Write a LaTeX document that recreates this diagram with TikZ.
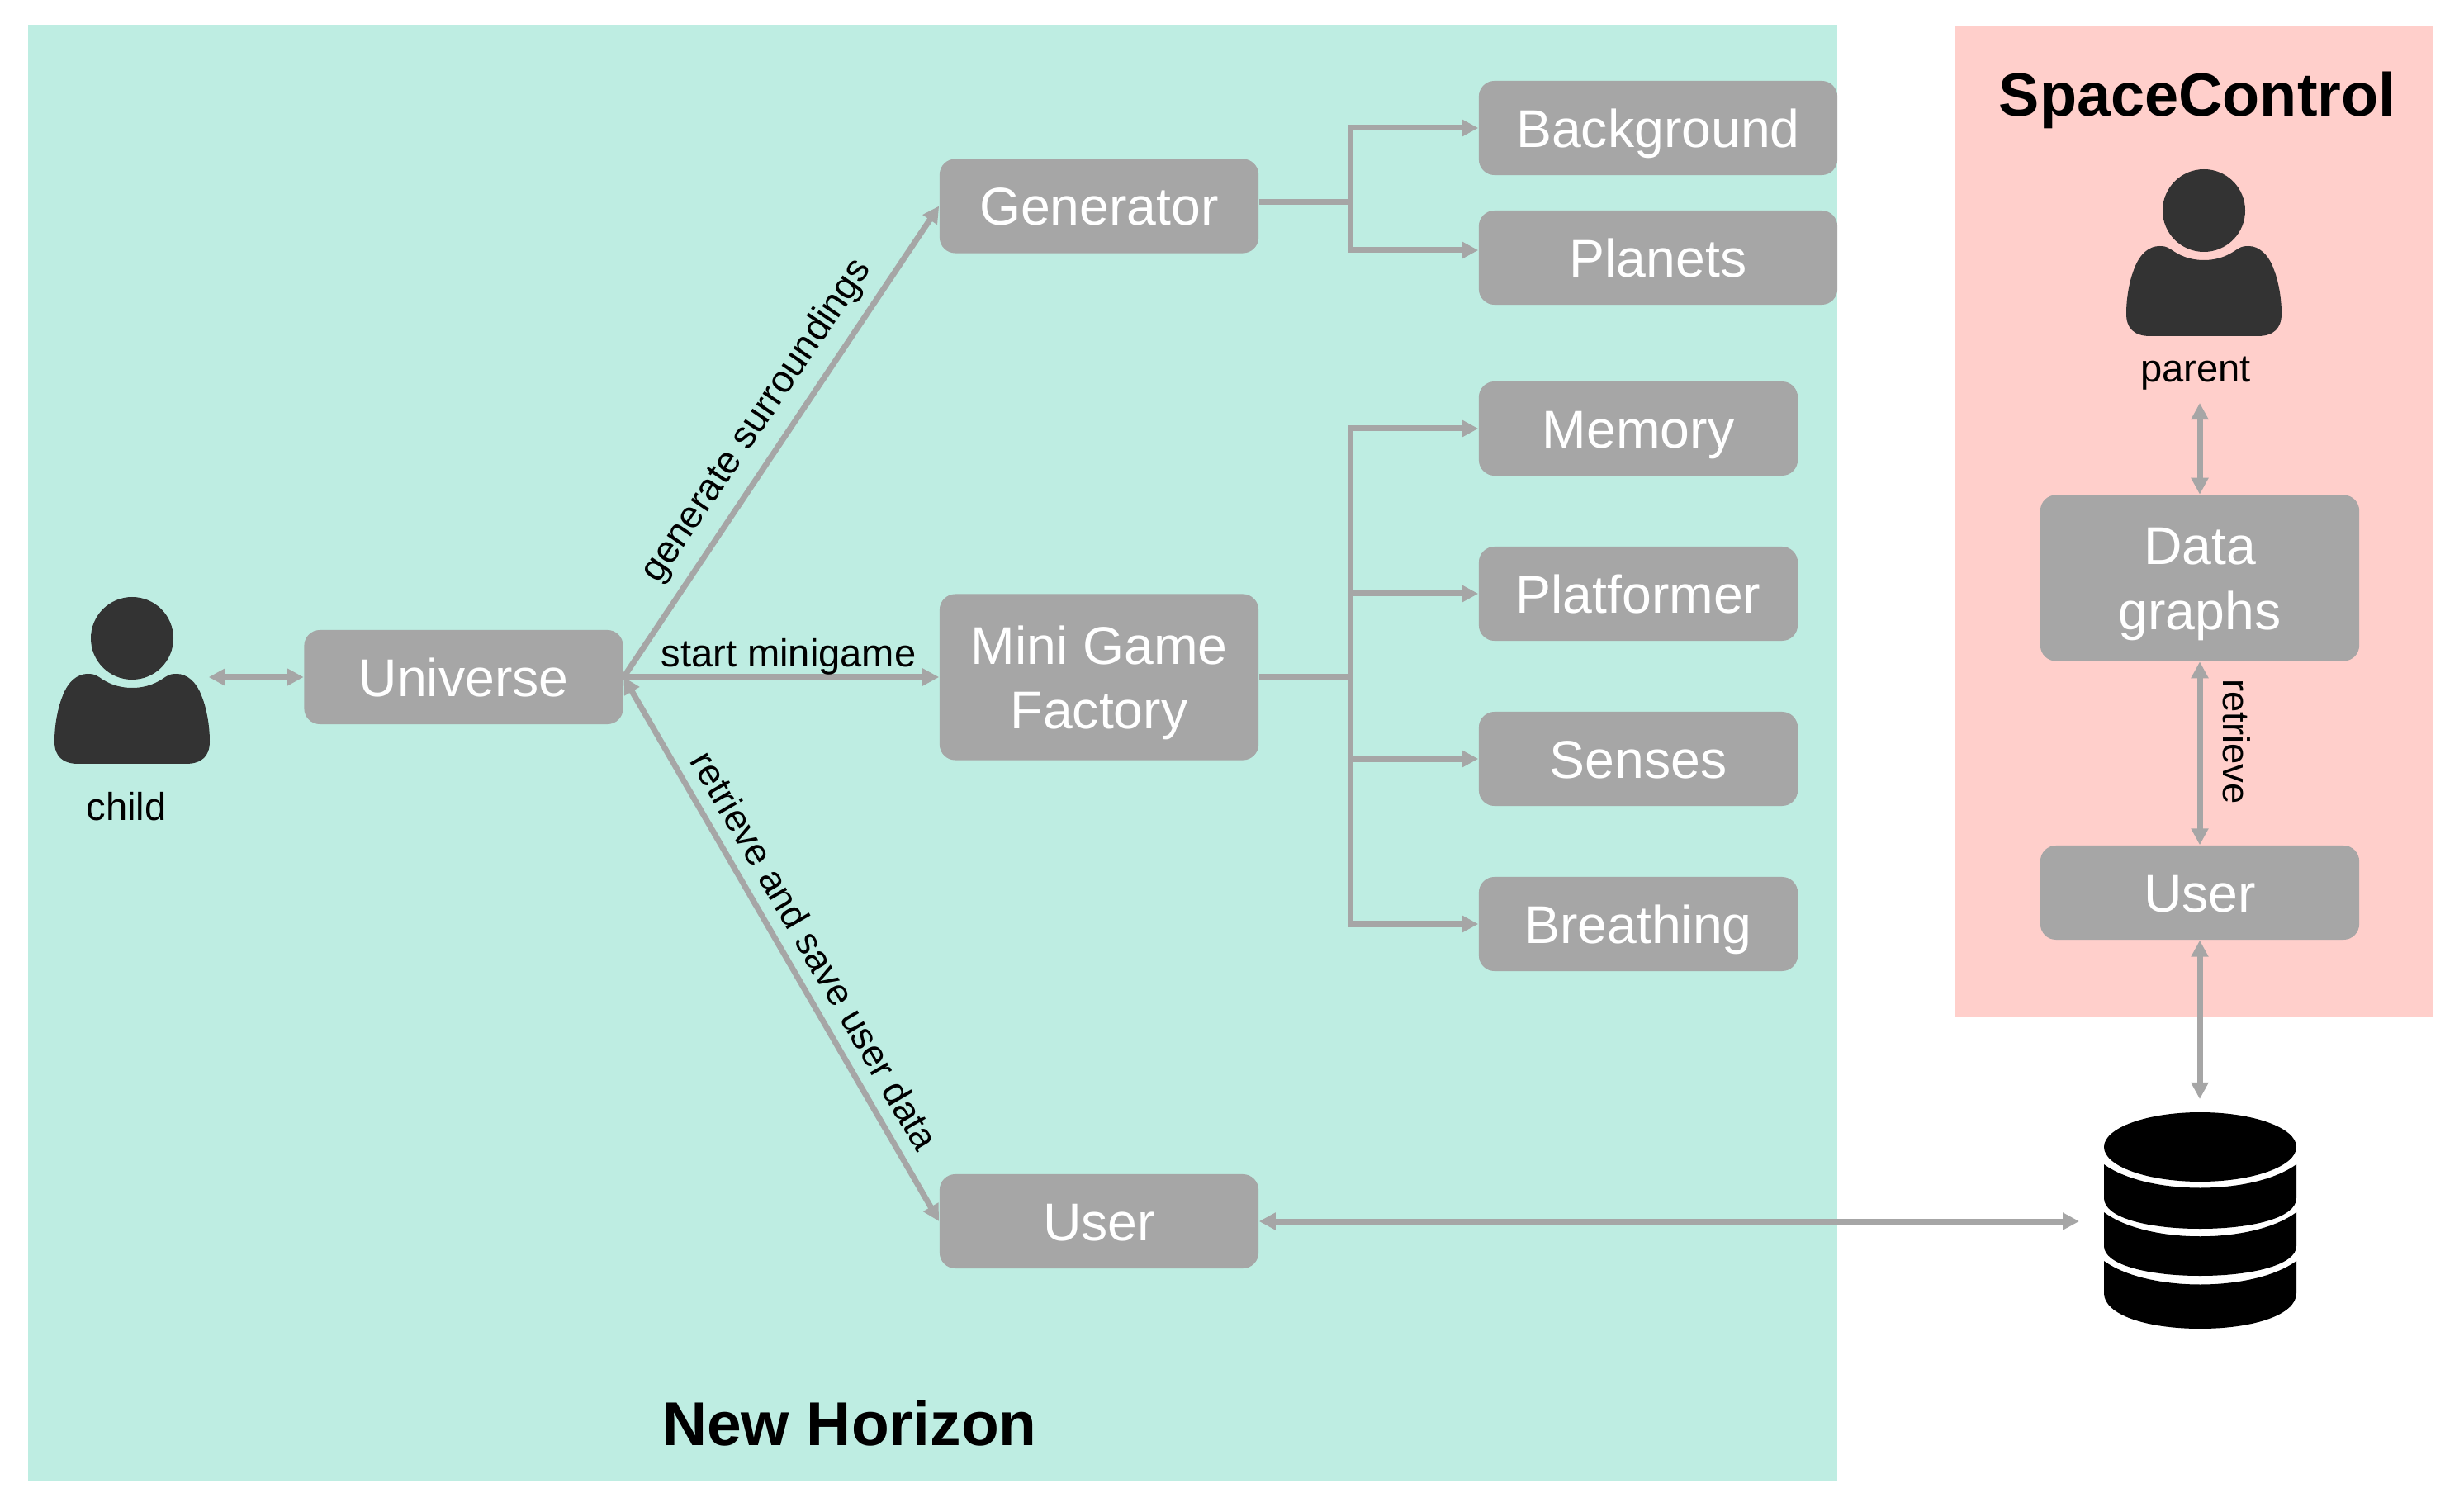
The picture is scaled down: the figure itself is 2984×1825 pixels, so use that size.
\documentclass[tikz,border=0pt]{standalone}
\usepackage{fontspec}
\setmainfont{Liberation Sans}
\usetikzlibrary{arrows.meta}
\definecolor{mintbg}{HTML}{BEEDE2}
\definecolor{pinkbg}{HTML}{FFCFCB}
\definecolor{boxgray}{HTML}{A6A6A6}
\definecolor{icondark}{HTML}{333333}
\tikzset{
  x=0.01cm,y=-0.01cm,
  gbox/.style={rectangle,rounded corners=0.19cm,fill=boxgray,text=white,inner sep=0pt,
    minimum width=3.86cm,minimum height=1.14cm,align=center,
    font=\fontsize{18.3pt}{22.2pt}\selectfont,text height=13.2pt,text depth=0pt},
  tbox/.style={gbox,minimum height=2.01cm,text height=35.3pt,text depth=0pt},
  wbox/.style={gbox,minimum width=4.34cm},
  lbl/.style={inner sep=0pt,font=\fontsize{13.4pt}{16pt}\selectfont},
  title/.style={inner sep=0pt,font=\fontsize{21pt}{25pt}\selectfont\bfseries},
  conn/.style={draw=boxgray,line width=0.07cm,>={Triangle[length=0.2cm,width=0.2cm]}},
  anchorbox/.style={rectangle,inner sep=0pt,minimum width=1.86cm,minimum height=2.1cm},
  person/.pic={
    \fill[icondark] (0,0) ellipse [x radius=50,y radius=50];
    \fill[icondark] (0,60) .. controls (-18,60) and (-30,54) .. (-40,47)
      .. controls (-46,43) and (-50,43) .. (-54,43)
      .. controls (-66,43) and (-78,52) .. (-85,72)
      .. controls (-90,85) and (-94,105) .. (-94,125)
      .. controls (-94,142) and (-85,152) .. (-65,152)
      -- (65,152)
      .. controls (85,152) and (94,142) .. (94,125)
      .. controls (94,105) and (90,85) .. (85,72)
      .. controls (78,52) and (66,43) .. (54,43)
      .. controls (50,43) and (46,43) .. (40,47)
      .. controls (30,54) and (18,60) .. (0,60) -- cycle;
  }
}
\begin{document}
\begin{tikzpicture}
\useasboundingbox (0,0) rectangle (2984,1825);
\fill[mintbg] (34,30) rectangle (2225,1793);
\fill[pinkbg] (2367,31) rectangle (2947,1232);

% icons
\pic at (160,773) {person};
\pic at (2669,255) {person};
\node[anchorbox] (child) at (159,824) {};
\node[anchorbox] (parent) at (2669,302) {};
\fill[black] (2548,1389) arc [start angle=180,end angle=540,x radius=116.5,y radius=42];
\fill[black] (2548,1410) .. controls (2600,1448) and (2729,1448) .. (2781,1410)
  -- (2781,1451) .. controls (2781,1474) and (2730,1488) .. (2664.5,1488)
  .. controls (2599,1488) and (2548,1474) .. (2548,1451) -- cycle;
\fill[black] (2548,1468) .. controls (2600,1507) and (2729,1507) .. (2781,1468)
  -- (2781,1509) .. controls (2781,1531) and (2730,1545) .. (2664.5,1545)
  .. controls (2599,1545) and (2548,1531) .. (2548,1509) -- cycle;
\fill[black] (2548,1527) .. controls (2600,1565) and (2729,1565) .. (2781,1527)
  -- (2781,1566) .. controls (2781,1592) and (2730,1609) .. (2664.5,1609)
  .. controls (2599,1609) and (2548,1592) .. (2548,1566) -- cycle;
\node[rectangle,inner sep=0pt,minimum width=2.33cm,minimum height=2.62cm] (db) at (2664.5,1478) {};

% boxes
\node[gbox] (universe) at (561.5,820) {Universe};
\node[gbox] (gen) at (1331,249.5) {Generator};
\node[tbox] (mini) at (1331,820) {Mini Game\\Factory};
\node[gbox] (userl) at (1331,1479) {User};
\node[wbox] (bg) at (2008,155) {Background};
\node[wbox] (planets) at (2008,312) {Planets};
\node[gbox] (memory) at (1984,519) {Memory};
\node[gbox] (platformer) at (1984,719) {Platformer};
\node[gbox] (senses) at (1984,919) {Senses};
\node[gbox] (breathing) at (1984,1119) {Breathing};
\node[tbox] (data) at (2664,700) {Data\\graphs};
\node[gbox] (userr) at (2664,1081) {User};

% branch points
\coordinate (b1) at (1635,245);
\coordinate (b1t) at (1635,155);
\coordinate (b1b) at (1635,303);
\coordinate (b2) at (1635,820);
\coordinate (b2t) at (1635,519);
\coordinate (b2a) at (1635,719);
\coordinate (b2c) at (1635,919);
\coordinate (b2d) at (1635,1119);
\coordinate (dbin) at (2518,1479);
\coordinate (dbtop) at (2664,1331);
\coordinate (ptop) at (2664,488);

% connectors
\draw[conn,<->] (child.east |- universe.west) -- (universe.west);
\draw[conn,->] (universe.east) -- (gen.west);
\draw[conn,->] (universe.east) -- (mini.west);
\draw[conn,<->] (universe.east) -- (userl.west);
\draw[conn] (gen.east |- b1) -- (b1);
\draw[conn,<->] (bg.west) -- (b1t) -- (b1b) -- (planets.west |- b1b);
\draw[conn] (mini.east) -- (b2);
\draw[conn,<->] (memory.west) -- (b2t) -- (b2d) -- (breathing.west);
\draw[conn,->] (b2a) -- (platformer.west);
\draw[conn,->] (b2c) -- (senses.west);
\draw[conn,<->] (userl.east) -- (dbin);
\draw[conn,<->] (ptop) -- (data.north);
\draw[conn,<->] (data.south) -- (userr.north);
\draw[conn,<->] (userr.south) -- (dbtop);

% labels
\node[lbl] (childl) at (153,977) {child};
\node[lbl] (parentl) at (2659,452) {parent};
\node[lbl,rotate=56,font=\fontsize{13.1pt}{16pt}\selectfont] (l1) at (917,510) {generate surroundings};
\node[lbl] (l2) at (955,795) {start minigame};
\node[lbl,rotate=-59.8,font=\fontsize{12.9pt}{16pt}\selectfont] (l3) at (987,1151) {retrieve and save user data};
\node[lbl,rotate=-90,font=\fontsize{12.9pt}{16pt}\selectfont] (l4) at (2709,898) {retrieve};
\node[title] (t1) at (2661,121) {SpaceControl};
\node[title,font=\fontsize{21.3pt}{25pt}\selectfont\bfseries] (t2) at (1029,1724) {New Horizon};
\end{tikzpicture}
\end{document}
